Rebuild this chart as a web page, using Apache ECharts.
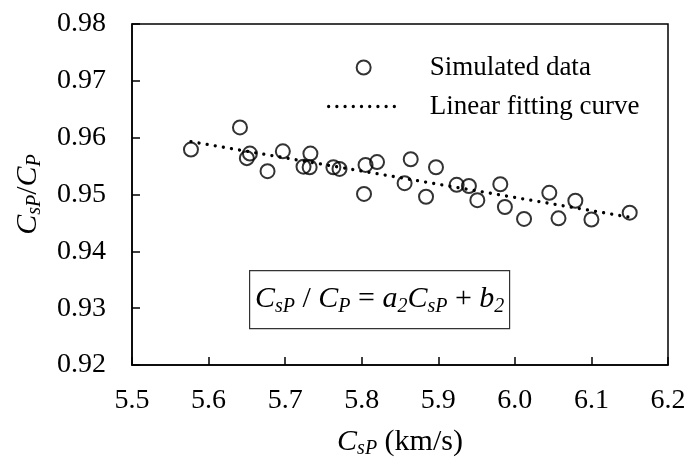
<!DOCTYPE html>
<html>
<head>
<meta charset="utf-8">
<script src="https://cdn.jsdelivr.net/npm/echarts@6/dist/echarts.min.js"></script>
<style>
  html, body { margin: 0; padding: 0; background: #fff; }
  #chart { width: 687px; height: 459px; }
</style>
</head>
<body>
<div id="chart"></div>
<script>
// Simulated sample points: C_sP (km/s) against the ratio C_sP / C_P
const cspValues = [5.577, 5.641, 5.654, 5.650, 5.677, 5.697, 5.733, 5.724, 5.732, 5.763,
                   5.771, 5.805, 5.820, 5.803, 5.864, 5.856, 5.897, 5.884, 5.924, 5.940,
                   5.951, 5.981, 5.987, 6.012, 6.045, 6.057, 6.079, 6.100, 6.150];
const ratioValues = [0.9579, 0.9618, 0.9572, 0.9564, 0.9541, 0.9576, 0.9572, 0.9549, 0.9548, 0.9548,
                     0.9545, 0.9552, 0.9557, 0.9501, 0.9562, 0.9520, 0.9548, 0.9496, 0.9517, 0.9515,
                     0.9490, 0.9518, 0.9478, 0.9457, 0.9503, 0.9458, 0.9489, 0.9456, 0.9468];

// End points of the linear fitting line
const fitX = [5.577, 6.150];
const fitY = [0.9593, 0.9460];

// Axis ranges and tick spacing
const xTicks = { min: 5.5, max: 6.2, step: 0.1 };
const yTicks = { min: 0.92, max: 0.98, step: 0.01 };

const seriesNames = ['Simulated data', 'Linear fitting curve'];

const SERIF = '"Liberation Serif", "Times New Roman", serif';

const scatterData = cspValues.map((x, i) => [x, ratioValues[i]]);
const fitData = fitX.map((x, i) => [x, fitY[i]]);

const chart = echarts.init(document.getElementById('chart'), null, { renderer: 'canvas' });

const nameRich = {
  i: { fontFamily: SERIF, fontStyle: 'italic', fontSize: 30, color: '#000', lineHeight: 34 },
  s: { fontFamily: SERIF, fontStyle: 'italic', fontSize: 20, color: '#000', lineHeight: 20, verticalAlign: 'bottom', padding: [7, 0, 0, 0] },
  n: { fontFamily: SERIF, fontSize: 30, color: '#000', lineHeight: 34 }
};

const eqRich = {
  i: { fontFamily: SERIF, fontStyle: 'italic', fontSize: 30, fill: '#000', lineHeight: 34 },
  s: { fontFamily: SERIF, fontStyle: 'italic', fontSize: 20, fill: '#000', lineHeight: 20, verticalAlign: 'bottom', padding: [5, 0, 0, 0] },
  n: { fontFamily: SERIF, fontSize: 30, fill: '#000', lineHeight: 34 }
};

const option = {
  backgroundColor: '#fff',
  animation: false,
  grid: {
    left: 132, right: 19, top: 24, bottom: 94,
    containLabel: false,
    outerBoundsMode: 'none',
    show: true, borderColor: '#000', borderWidth: 1.5
  },
  legend: {
    orient: 'vertical',
    left: 327,
    top: 48,
    padding: 0,
    itemGap: 0,
    itemWidth: 70,
    itemHeight: 14,
    selectedMode: false,
    textStyle: {
      fontFamily: SERIF, fontSize: 27, color: '#000',
      lineHeight: 39, padding: [0, 0, 0, 26]
    },
    data: [
      { name: seriesNames[0], itemStyle: { color: 'transparent', borderColor: '#000', borderWidth: 2 } },
      {
        name: seriesNames[1],
        itemStyle: { color: 'transparent', borderColor: 'transparent', borderWidth: 0 },
        lineStyle: { color: '#000', width: 3.3, type: [0.01, 8.2], cap: 'round' }
      }
    ]
  },
  xAxis: {
    type: 'value',
    min: xTicks.min, max: xTicks.max, interval: xTicks.step,
    name: '{i|C}{s|sP}{n| (km/s)}',
    nameLocation: 'middle',
    nameGap: 60,
    nameTextStyle: { rich: nameRich },
    axisLine: { show: true, lineStyle: { color: '#000', width: 1.5 } },
    axisTick: { show: true, inside: true, length: 8, lineStyle: { color: '#000', width: 1.5 } },
    splitLine: { show: false },
    axisLabel: {
      margin: 22, color: '#000', fontFamily: SERIF, fontSize: 28,
      formatter: v => v.toFixed(1)
    }
  },
  yAxis: {
    type: 'value',
    min: yTicks.min, max: yTicks.max, interval: yTicks.step,
    name: '{i|C}{s|sP}{n|/}{i|C}{s|P}',
    nameLocation: 'middle',
    nameGap: 87,
    nameTextStyle: { rich: nameRich },
    axisLine: { show: true, lineStyle: { color: '#000', width: 1.5 } },
    axisTick: { show: true, inside: true, length: 8, lineStyle: { color: '#000', width: 1.5 } },
    splitLine: { show: false },
    axisLabel: {
      margin: 26, color: '#000', fontFamily: SERIF, fontSize: 28,
      formatter: v => v.toFixed(2)
    }
  },
  series: [
    {
      name: seriesNames[0],
      type: 'scatter',
      data: scatterData,
      symbol: 'circle',
      symbolSize: 14,
      itemStyle: { color: 'transparent', borderColor: '#000', borderWidth: 2 },
      z: 3
    },
    {
      name: seriesNames[1],
      type: 'line',
      data: fitData,
      symbol: 'none',
      itemStyle: { color: '#000' },
      lineStyle: { color: '#000', width: 3.3, type: [0.01, 8.2], cap: 'round' },
      z: 2
    }
  ],
  graphic: [
    {
      type: 'group',
      left: 249,
      top: 270,
      children: [
        {
          type: 'rect',
          shape: { x: 0, y: 0, width: 260, height: 58 },
          style: { fill: '#fff', stroke: '#333', lineWidth: 1.2 }
        },
        {
          type: 'text',
          x: 130,
          y: 29,
          style: {
            text: '{i|C}{s|sP}{n| / }{i|C}{s|P}{n| = }{i|a}{s|2}{i|C}{s|sP}{n| + }{i|b}{s|2}',
            align: 'center',
            verticalAlign: 'middle',
            rich: eqRich
          }
        }
      ]
    }
  ]
};

chart.setOption(option);
</script>
</body>
</html>
